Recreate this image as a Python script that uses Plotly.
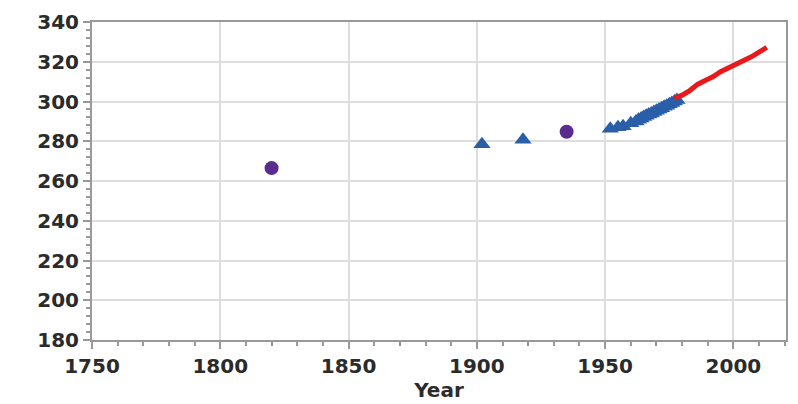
import plotly.graph_objects as go

circle_years = [1820, 1935]
circle_vals = [266.5, 284.8]

tri_years = [1902, 1918, 1952, 1955, 1957, 1960, 1962, 1963, 1964, 1965, 1966, 1967,
             1968, 1969, 1970, 1971, 1972, 1973, 1974, 1975, 1976, 1977, 1978]
tri_vals = [278.5, 280.8, 286.3, 287, 287.6, 289, 290, 290.8, 291.4, 292.2, 292.8, 293.4,
            294.0, 294.7, 295.3, 296.0, 296.6, 297.3, 297.9, 298.6, 299.3, 300.0, 300.8]

line_years = [1977, 1980, 1983, 1986, 1989, 1992, 1995, 1998, 2001, 2004, 2007, 2010, 2013]
line_vals = [301.6, 303.2, 305.5, 308.6, 310.6, 312.4, 315.0, 316.8, 318.5, 320.4, 322.5, 324.8, 327.2]

fig = go.Figure()
fig.add_trace(go.Scatter(x=circle_years, y=circle_vals, mode="markers",
                         marker=dict(symbol="circle", size=14, color="#5b2c8f"), showlegend=False))
fig.add_trace(go.Scatter(x=tri_years, y=tri_vals, mode="markers",
                         marker=dict(symbol="triangle-up", size=15, color="#2a5fa8"), showlegend=False))
fig.add_trace(go.Scatter(x=line_years, y=line_vals, mode="lines",
                         line=dict(color="#e8191b", width=5), showlegend=False))

font = dict(family="DejaVu Sans", size=20, color="#2b2b2b", weight="bold")
axis_common = dict(showline=True, linecolor="#999999", linewidth=2, mirror=True,
                   showgrid=True, gridcolor="#dddddd", gridwidth=2, zeroline=False,
                   ticks="outside", tickcolor="#999999", ticklen=7, tickwidth=2,
                   tickfont=font)
fig.update_layout(
    width=798, height=404,
    margin=dict(l=92, r=10, t=16, b=61),
    plot_bgcolor="white", paper_bgcolor="white",
    xaxis=dict(range=[1750, 2020.5], dtick=50, tick0=1750,
               minor=dict(dtick=10, ticks="outside", ticklen=4, tickcolor="#999999", tickwidth=2, showgrid=False),
               title=dict(text="Year", font=font, standoff=2), **axis_common),
    yaxis=dict(range=[180, 340], dtick=20, tick0=180,
               minor=dict(dtick=4, ticks="outside", ticklen=4, tickcolor="#999999", tickwidth=2, showgrid=False),
               **axis_common),
)
fig.write_html("out.html")
